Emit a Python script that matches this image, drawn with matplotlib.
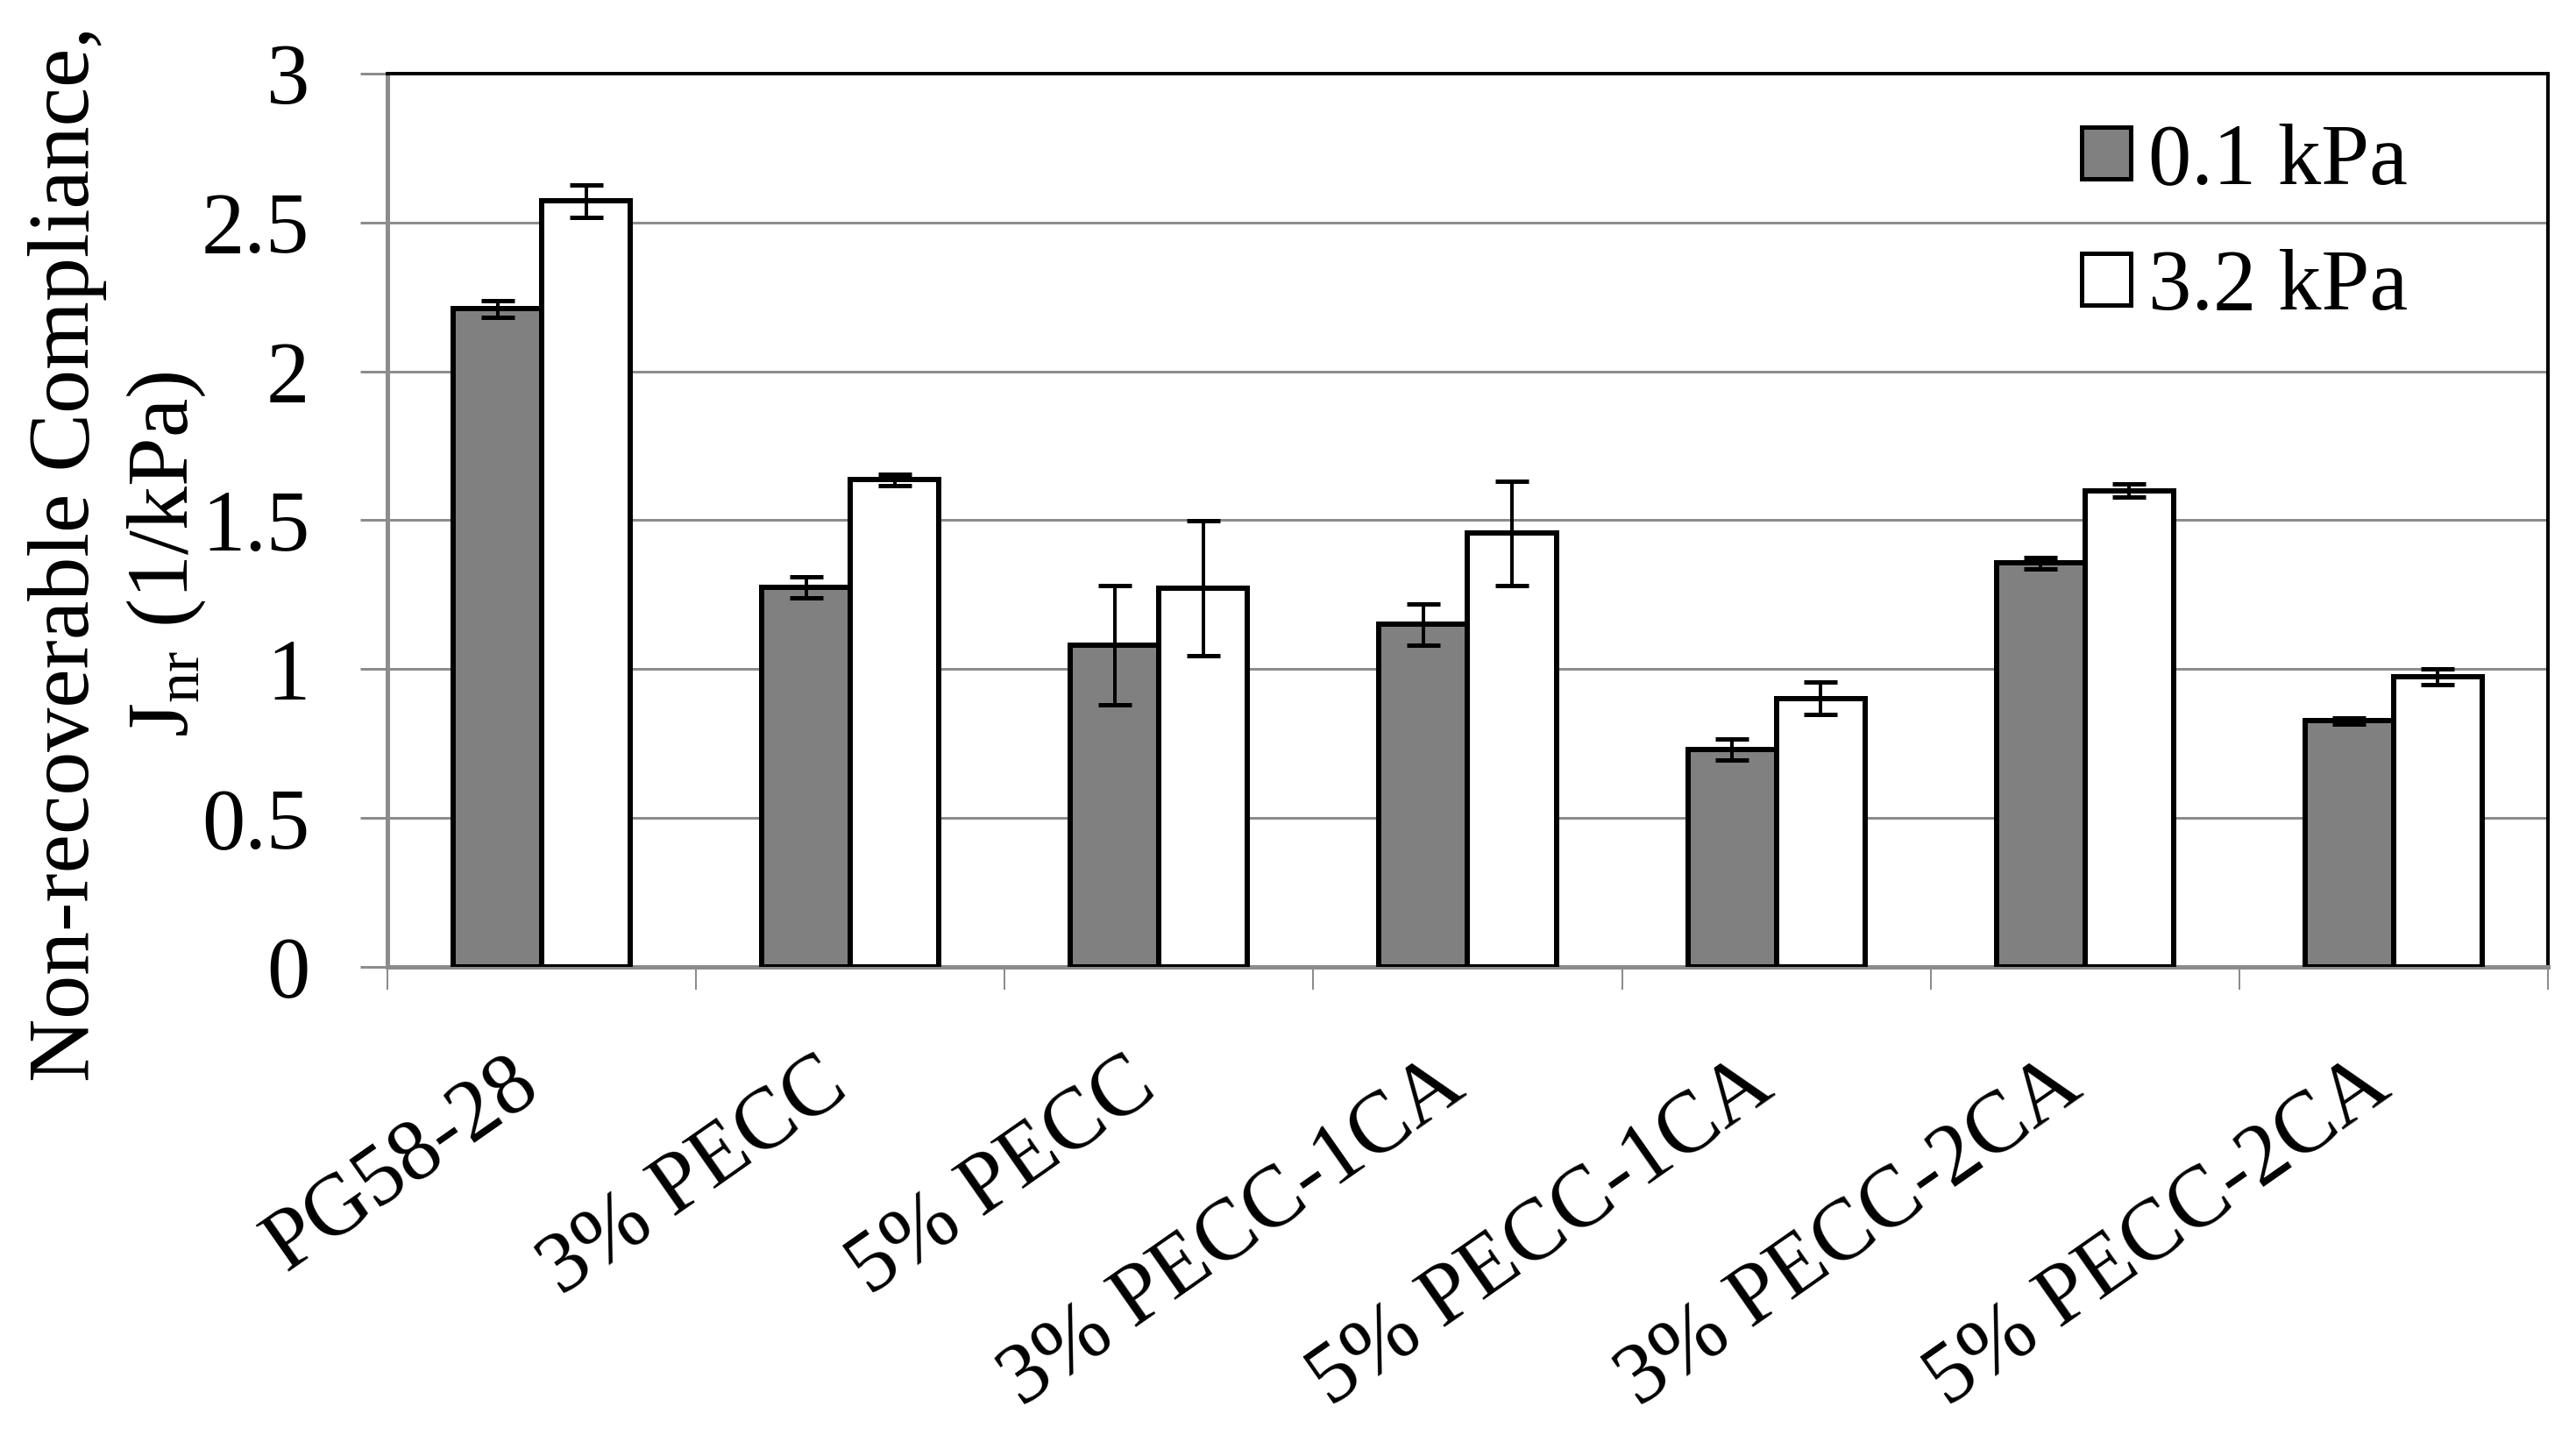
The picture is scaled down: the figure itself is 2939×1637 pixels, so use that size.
import numpy as np
from matplotlib import pyplot as plt

plt.rcParams["font.family"] = ["Liberation Serif", "DejaVu Serif"]
plt.rcParams["mathtext.fontset"] = "custom"
plt.rcParams["mathtext.rm"] = "Liberation Serif"
plt.rcParams["mathtext.it"] = "Liberation Serif"

# データ
categories = ["PG58-28", "3% PECC", "5% PECC", "3% PECC-1CA",
              "5% PECC-1CA", "3% PECC-2CA", "5% PECC-2CA"]
jnr_01 = [2.21, 1.275, 1.08, 1.15, 0.73, 1.356, 0.826]
err_01 = [0.028, 0.035, 0.20, 0.07, 0.036, 0.02, 0.01]
jnr_32 = [2.572, 1.636, 1.272, 1.456, 0.902, 1.599, 0.974]
err_32 = [0.055, 0.02, 0.226, 0.176, 0.055, 0.022, 0.027]
series_labels = ["0.1 kPa", "3.2 kPa"]
yticks = [0, 0.5, 1, 1.5, 2, 2.5, 3]
ytick_labels = ["0", "0.5", "1", "1.5", "2", "2.5", "3"]

FS = 71
px = 72 / 100  # 1ピクセル → ポイント

fig = plt.figure(figsize=(29.39, 16.37), dpi=100)
ax = fig.add_axes([0.1504, 0.3262, 0.8387, 0.6225])

x = np.arange(len(categories))
width = 0.287

err_kw = dict(ecolor="black", elinewidth=4 * px, capsize=14, capthick=5 * px)
ax.bar(x - width / 2, jnr_01, width, color="#808080", edgecolor="black",
       linewidth=6 * px, yerr=err_01, error_kw=err_kw, zorder=3,
       label=series_labels[0])
ax.bar(x + width / 2, jnr_32, width, color="white", edgecolor="black",
       linewidth=6 * px, yerr=err_32, error_kw=err_kw, zorder=3,
       label=series_labels[1])

# 軸の設定
ax.set_xlim(-0.5, len(categories) - 0.5)
ax.set_ylim(0, 3)
ax.set_yticks(yticks)
ax.set_yticklabels(ytick_labels)
ax.yaxis.grid(True, color="#8c8c8c", linewidth=3 * px, zorder=0)
ax.set_axisbelow(True)

# 目盛りは区切り位置、ラベルはカテゴリ中央
ax.set_xticks(np.arange(len(categories) + 1) - 0.5)
ax.set_xticklabels([])
ax.set_xticks(x, minor=True)
ax.set_xticklabels(categories, minor=True, rotation=35, ha="right",
                   va="baseline", rotation_mode="anchor")
ax.tick_params(axis="x", which="minor", length=0, pad=104, labelsize=FS)
ax.tick_params(axis="x", which="major", length=19, width=2 * px,
               color="#8c8c8c")
ax.tick_params(axis="y", length=22, width=3 * px, color="#8c8c8c",
               pad=42, labelsize=FS)

for side in ["top", "right"]:
    ax.spines[side].set_color("black")
    ax.spines[side].set_linewidth(4 * px)
for side in ["left", "bottom"]:
    ax.spines[side].set_color("#8c8c8c")
    ax.spines[side].set_linewidth(5 * px)

# プロットエリア枠（左・下の内側の黒線）
ax.plot([0, 0], [0, 1], transform=ax.transAxes, color="black",
        linewidth=2 * px, clip_on=False, zorder=2)

ax.set_ylabel("Non-recoverable Compliance,\nJ$_{\\mathrm{nr}}$ (1/kPa)",
              fontsize=FS + 1, linespacing=1.3)
ax.yaxis.set_label_coords(-0.083, 0.462)

ax.legend(frameon=False, loc="upper right", bbox_to_anchor=(0.935, 0.945),
          fontsize=FS, handlelength=0.57, handleheight=0.54,
          handletextpad=0.2, labelspacing=0.55, borderpad=0,
          borderaxespad=0)
for h in ax.get_legend().legend_handles:
    h.set_linewidth(5 * px)

fig.savefig("out.png", dpi=100)
